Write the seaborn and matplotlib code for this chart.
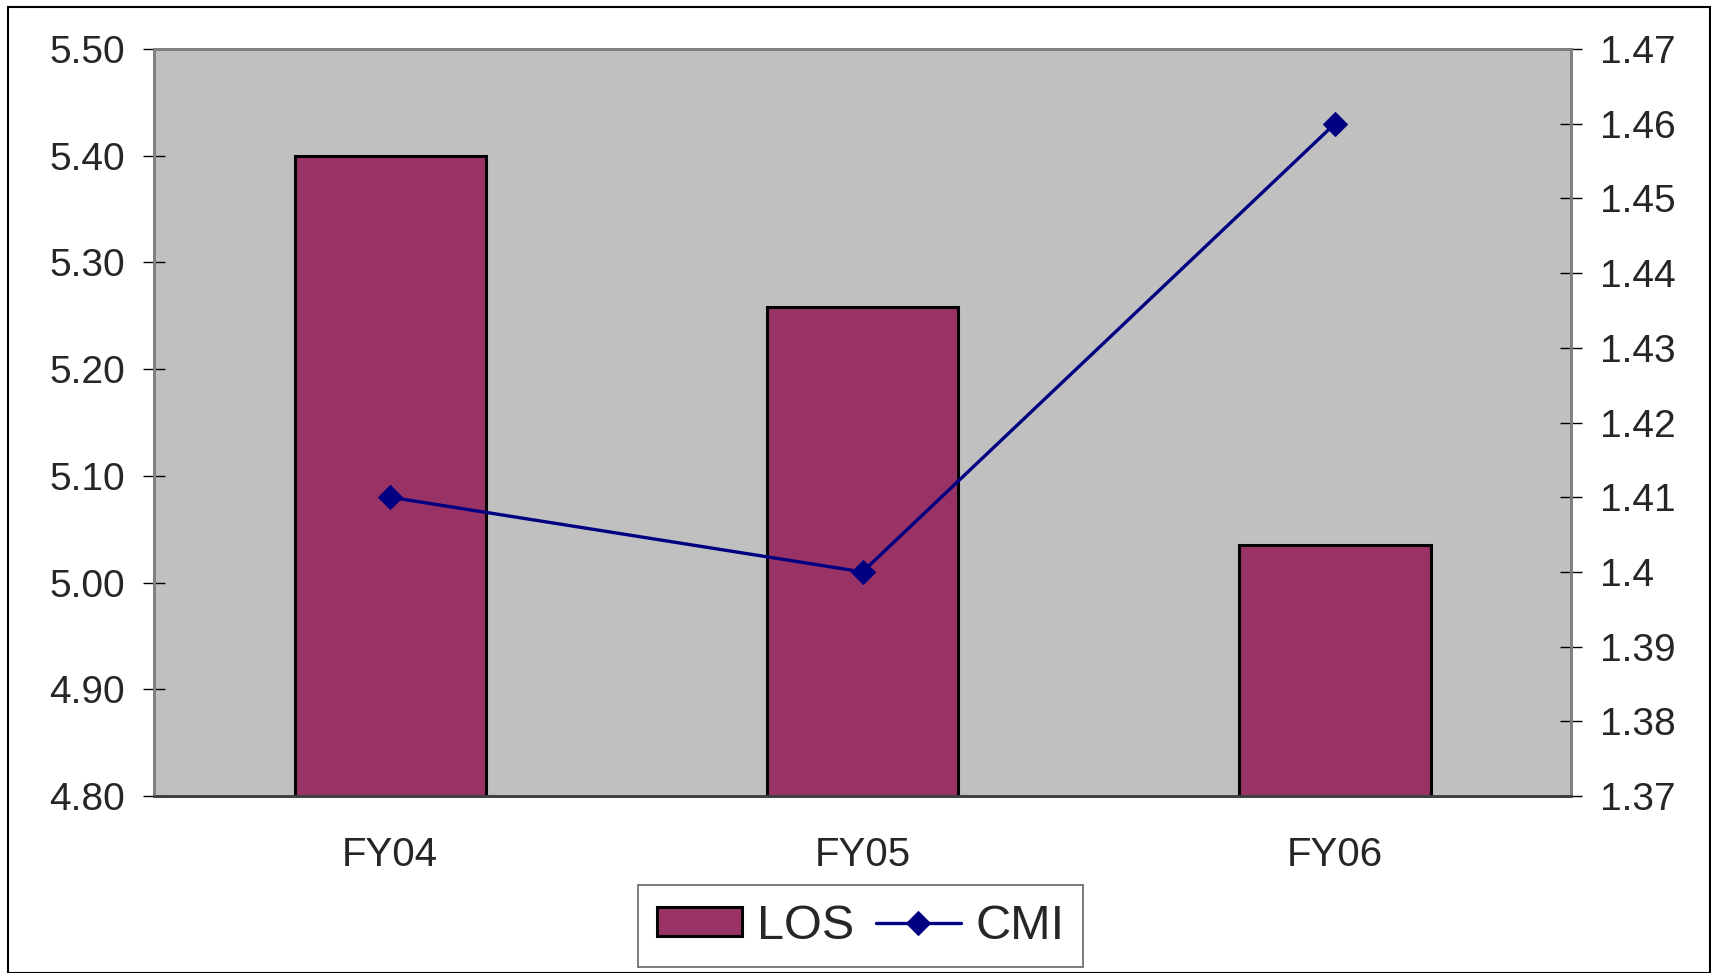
import numpy as np
import pandas as pd
import matplotlib
matplotlib.use("Agg")
import matplotlib.pyplot as plt
import seaborn as sns
from matplotlib.patches import Rectangle

# data
years = ["FY04", "FY05", "FY06"]
los = [5.40, 5.258, 5.035]
cmi = [1.41, 1.40, 1.46]
left_ticks = [4.80, 4.90, 5.00, 5.10, 5.20, 5.30, 5.40, 5.50]
right_ticks = [1.37, 1.38, 1.39, 1.40, 1.41, 1.42, 1.43, 1.44, 1.45, 1.46, 1.47]
right_labels = ["1.37", "1.38", "1.39", "1.4", "1.41", "1.42", "1.43", "1.44", "1.45", "1.46", "1.47"]

sns.set_style("white")
plt.rcParams['font.family'] = ['Liberation Sans', 'DejaVu Sans']

df = pd.DataFrame({"year": years, "LOS": los, "CMI": cmi})

fig = plt.figure(figsize=(17.11, 9.73), dpi=100)
ax = fig.add_axes([0.0900, 0.1819, 0.8282, 0.7677])
ax.set_facecolor("#C0C0C0")

sns.barplot(data=df, x="year", y="LOS", color="#993366", width=0.405,
            edgecolor="black", linewidth=2.2, saturation=1, ax=ax, label="LOS")
ax.set_ylim(4.80, 5.50)
ax.set_xlim(-0.5, 2.5)
ax.set_yticks(left_ticks)
ax.set_yticklabels([f"{t:.2f}" for t in left_ticks])
ax.set_xlabel("")
ax.set_ylabel("")

ax2 = ax.twinx()
sns.lineplot(x=np.arange(len(years)), y=cmi, ax=ax2, color="#000080", lw=2.4,
             marker="D", markersize=12.5, markeredgecolor="#000080", label="CMI")
ax2.set_ylim(1.37, 1.47)
ax2.set_yticks(right_ticks)
ax2.set_yticklabels(right_labels)
ax2.set_xlim(-0.5, 2.5)
for a in (ax, ax2):
    if a.get_legend():
        a.get_legend().remove()

# category boundary ticks on the x axis
ax.set_xticks([0, 1, 2])
ax.set_xticklabels(years)
ax.set_xticks([-0.5, 0.5, 1.5, 2.5], minor=True)
ax.tick_params(axis="x", which="major", length=0, pad=29, labelsize=29)
ax.tick_params(axis="x", which="minor", direction="inout", length=17, width=1, color="#404040")
ax.tick_params(axis="y", direction="inout", length=16, width=1, color="black", pad=13, labelsize=28)
ax2.tick_params(axis="y", direction="inout", length=16, width=1, color="black", pad=13, labelsize=28)

for a in (ax, ax2):
    for s in a.spines.values():
        s.set_color("#808080")
        s.set_linewidth(2)
    a.spines["bottom"].set_color("#404040")

# legend
handles = ax.patches[:1] + ax2.lines[:1]
leg = fig.legend(handles, ["LOS", "CMI"], loc="center", bbox_to_anchor=(0.503, 0.048),
                 ncol=2, fontsize=35, frameon=True, fancybox=False, handlelength=1.75,
                 handleheight=0.55, handletextpad=0.3, columnspacing=0.45, borderpad=0.38,
                 borderaxespad=0)
leg.get_frame().set_edgecolor("#404040")
leg.get_frame().set_linewidth(1.2)

# outer chart border
fig.patches.append(Rectangle((8 / 1711, 0), 1 - 9 / 1711, 1 - 7 / 973, transform=fig.transFigure,
                             fill=False, edgecolor="black", linewidth=1.5))

fig.savefig("out.png", dpi=100)
